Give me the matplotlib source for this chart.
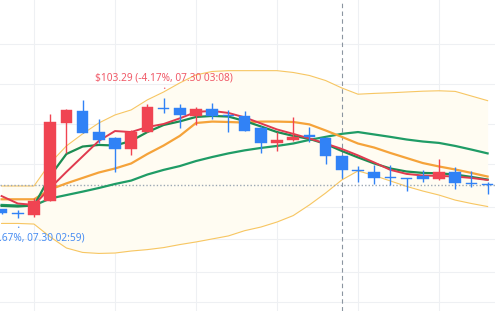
import matplotlib
matplotlib.use("Agg")
import matplotlib.pyplot as plt
from matplotlib.patches import Rectangle

# ---- data ----
opens  = [97.77, 97.60, 97.49, 98.20, 102.08, 102.66, 101.60, 101.30, 100.75, 101.63,
          102.82, 102.79, 102.42, 102.74, 102.48, 102.41, 101.83, 101.05, 101.22, 101.44,
          101.30, 100.42, 99.72, 99.64, 99.39, 99.33, 99.43, 99.26, 99.64, 99.10, 99.03]
highs  = [97.81, 97.74, 98.32, 102.51, 102.74, 103.20, 102.25, 101.38, 101.69, 102.98,
          103.29, 103.01, 102.87, 103.07, 102.71, 102.67, 101.91, 101.63, 102.37, 101.88,
          101.38, 100.47, 99.90, 99.95, 99.97, 99.35, 99.73, 100.26, 99.89, 99.69, 99.14]
lows   = [97.54, 97.35, 97.40, 98.16, 100.56, 101.55, 101.05, 99.61, 100.47, 101.61,
          102.57, 101.80, 101.96, 102.25, 101.63, 101.64, 100.59, 100.69, 101.19, 101.13,
          100.02, 99.33, 99.13, 99.03, 98.98, 98.70, 99.11, 99.25, 98.77, 98.87, 98.53]
closes = [97.59, 97.55, 98.20, 102.13, 102.69, 101.58, 101.22, 100.75, 101.63, 102.87,
          102.77, 102.46, 102.74, 102.42, 102.43, 101.68, 101.05, 101.22, 101.35, 101.37,
          100.42, 99.70, 99.67, 99.35, 99.34, 99.29, 99.26, 99.64, 99.06, 99.05, 98.98]

ma_red = [98.43, 98.06, 97.99, 98.83, 99.63, 100.40, 101.17, 101.66, 101.61, 101.86,
          102.01, 102.29, 102.61, 102.66, 102.56, 102.34, 102.04, 101.74, 101.52, 101.29,
          101.04, 100.77, 100.45, 100.10, 99.73, 99.53, 99.45, 99.43, 99.40, 99.33, 99.23]
ma_green = [97.94, 97.91, 97.96, 99.43, 100.52, 100.89, 100.97, 100.94, 101.17, 101.61,
            101.96, 102.14, 102.36, 102.41, 102.38, 102.16, 101.89, 101.61, 101.42, 101.27,
            101.02, 100.67, 100.35, 100.05, 99.80, 99.65, 99.58, 99.56, 99.50, 99.38, 99.25]
ma_orange = [98.27, 98.27, 98.27, 98.76, 99.06, 99.33, 99.60, 99.80, 100.05, 100.52,
             100.94, 101.42, 102.06, 102.13, 102.11, 102.08, 102.13, 102.13, 102.11, 101.99,
             101.69, 101.37, 101.04, 100.84, 100.57, 100.32, 100.07, 99.90, 99.75, 99.58, 99.40]
bb_mid = [97.99, 97.96, 97.96, 98.31, 98.48, 98.65, 98.83, 99.03, 99.20, 99.50,
          99.73, 99.92, 100.17, 100.37, 100.55, 100.70, 100.82, 100.92, 101.04, 101.22,
          101.37, 101.52, 101.61, 101.49, 101.37, 101.24, 101.14, 101.07, 100.92, 100.74, 100.55]
bb_upper = [98.93, 98.93, 98.93, 100.07, 100.92, 101.52, 102.06, 102.46, 102.71, 103.21,
            103.60, 104.05, 104.45, 104.62, 104.66, 104.66, 104.66, 104.66, 104.57, 104.42,
            104.17, 103.80, 103.49, 103.53, 103.56, 103.60, 103.64, 103.66, 103.63, 103.40, 103.17]
bb_lower = [97.07, 97.07, 97.04, 96.40, 95.85, 95.63, 95.58, 95.60, 95.70, 95.77,
            95.87, 96.02, 96.15, 96.30, 96.45, 96.71, 96.89, 97.14, 97.46, 97.99,
            98.58, 99.23, 99.68, 99.45, 99.18, 98.91, 98.68, 98.48, 98.23, 98.06, 97.91]

current_price = 98.98
high_label = "$103.29 (-4.17%, 07.30 03:08)"
low_label = "$97.35 (+1.67%, 07.30 02:59)"
grid_prices = [105.97, 103.98, 102.00, 100.02, 97.90, 96.28, 94.67, 93.18]
grid_idx = [2, 7, 12, 17, 22, 27]
cursor_idx = 21

UP = "#f04452"
DOWN = "#3182f6"

fig = plt.figure(figsize=(4.95, 3.11), dpi=100)
ax = fig.add_axes([0, 0, 1, 1])
ax.set_facecolor("white")
ax.set_xlim(-0.099, 30.457)
ax.set_ylim(92.72, 108.17)
for s in ax.spines.values():
    s.set_visible(False)
ax.set_xticks([])
ax.set_yticks([])

x = list(range(len(closes)))

for g in grid_prices:
    ax.axhline(g, color="#eef0f3", lw=0.8, zorder=0)
for gi in grid_idx:
    ax.axvline(gi, color="#eef0f3", lw=0.8, zorder=0)

ax.fill_between(x, bb_lower, bb_upper, color="#fffcf2", lw=0, zorder=1)
ax.plot(x, bb_upper, color="#f7c662", lw=0.8, zorder=2)
ax.plot(x, bb_lower, color="#f7c662", lw=0.8, zorder=2)

ax.axhline(current_price, color="#9ba7b4", lw=1.0, ls=(0, (1, 1.5)), zorder=2)
ax.axvline(cursor_idx, color="#8b95a1", lw=0.8, ls=(0, (4, 3)), zorder=2)

ax.plot(x, bb_mid, color="#1f9c66", lw=1.6, zorder=3)
ax.plot(x, ma_orange, color="#f5a33a", lw=1.6, zorder=3)
ax.plot(x, ma_green, color="#1b8c52", lw=1.6, zorder=3)
ax.plot(x, ma_red, color="#e03a4e", lw=1.4, zorder=3)

w = 0.72
min_h = 0.035
for i, (o, h, l, c) in enumerate(zip(opens, highs, lows, closes)):
    col = UP if c >= o else DOWN
    ax.vlines(i, l, h, color=col, lw=1.0, zorder=4)
    bottom = min(o, c)
    height = max(abs(c - o), min_h)
    ax.add_patch(Rectangle((i - w / 2, bottom), w, height, facecolor=col,
                           edgecolor=col, lw=0.3, zorder=5))

hi_i = highs.index(max(highs))
lo_i = lows.index(min(lows))
ax.annotate("•", xy=(hi_i, highs[hi_i]), xytext=(0, 7.2), textcoords="offset points",
            ha="center", va="center", color="#f06a76", fontsize=4, family="DejaVu Sans")
ax.annotate(high_label, xy=(hi_i, highs[hi_i]), xytext=(0, 14.8), textcoords="offset points",
            ha="center", va="center", color="#f05a68", fontsize=7.3, family="Noto Sans")
ax.annotate("•", xy=(lo_i, lows[lo_i]), xytext=(0, -7.2), textcoords="offset points",
            ha="center", va="center", color="#5b94f0", fontsize=4, family="DejaVu Sans")
ax.annotate(low_label, xy=(lo_i, lows[lo_i]), xytext=(0, -14.8), textcoords="offset points",
            ha="center", va="center", color="#4a8ef2", fontsize=7.3, family="Noto Sans")

fig.savefig("out.png", dpi=100)
